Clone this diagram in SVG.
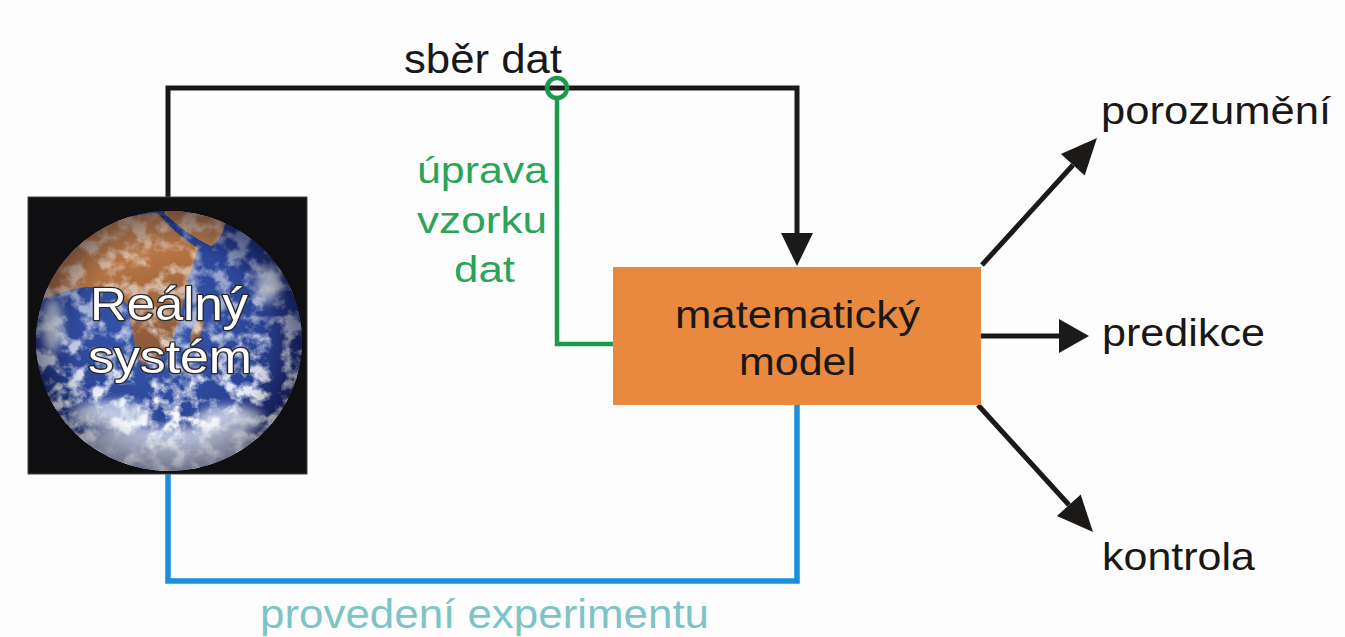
<svg xmlns="http://www.w3.org/2000/svg" width="1345" height="637" viewBox="0 0 1345 637">
  <style>
    text { font-family: "Liberation Sans", Arial, sans-serif; }
    .lbl { fill: #1a1817; }
    .green { fill: #2ba45a; }
    .earthtxt { fill: #ffffff; stroke: #2a2a2a; stroke-width: 2.6; paint-order: stroke; stroke-linejoin: round; }
    .blk { fill: none; stroke: #1c1a18; stroke-width: 5; }
    .head { fill: #1c1a18; }
  </style>
  <defs>
    <radialGradient id="ocean" cx="0.45" cy="0.45" r="0.6">
      <stop offset="0" stop-color="#3a5cb0"/>
      <stop offset="0.6" stop-color="#2a4496"/>
      <stop offset="1" stop-color="#1a2466"/>
    </radialGradient>
    <radialGradient id="limb" cx="0.5" cy="0.5" r="0.5">
      <stop offset="0.72" stop-color="#000018" stop-opacity="0"/>
      <stop offset="1" stop-color="#000018" stop-opacity="0.4"/>
    </radialGradient>
    <linearGradient id="sand" x1="0" y1="0" x2="0.3" y2="1">
      <stop offset="0" stop-color="#c88c58"/>
      <stop offset="0.5" stop-color="#b27242"/>
      <stop offset="1" stop-color="#8c5a3c"/>
    </linearGradient>
    <linearGradient id="cloudmask" x1="0" y1="0" x2="0" y2="1">
      <stop offset="0" stop-color="#fff" stop-opacity="0.35"/>
      <stop offset="0.45" stop-color="#fff" stop-opacity="0.6"/>
      <stop offset="0.75" stop-color="#fff" stop-opacity="0.95"/>
      <stop offset="1" stop-color="#fff" stop-opacity="1"/>
    </linearGradient>
    <mask id="cm">
      <rect x="28" y="197" width="280" height="277" fill="url(#cloudmask)"/>
    </mask>
    <clipPath id="globe">
      <ellipse cx="169" cy="341" rx="133" ry="130"/>
    </clipPath>
    <filter id="clouds" x="0" y="0" width="1" height="1">
      <feTurbulence type="fractalNoise" baseFrequency="0.06" numOctaves="5" seed="11" result="n"/>
      <feColorMatrix in="n" type="matrix" values="0 0 0 0 1  0 0 0 0 1  0 0 0 0 1  4 0 0 0 -1.75"/>
    </filter>
    <filter id="soft" x="-20%" y="-20%" width="140%" height="140%">
      <feGaussianBlur stdDeviation="5"/>
    </filter>
  </defs>

  <rect x="0" y="0" width="1345" height="637" fill="#fdfdfd"/>

  <g id="connectors">
    <!-- sběr dat -->
    <path class="blk" d="M168,198 V88 H797 V236"/>
    <polygon class="head" points="781,233 813,233 797,266"/>
    <!-- provedení experimentu -->
    <path d="M168,473 V581 H797 V405" fill="none" stroke="#1a90dc" stroke-width="5.5"/>
    <!-- úprava vzorku dat -->
    <path d="M557,98 V344 H614" fill="none" stroke="#1c9a4c" stroke-width="4.5"/>
    <circle cx="557" cy="88" r="10" fill="none" stroke="#1c9a4c" stroke-width="4.5"/>
    <!-- outputs -->
    <line class="blk" x1="982" y1="265" x2="1073" y2="165"/>
    <polygon class="head" points="1097,138 1084.7,175.4 1060.9,154"/>
    <line class="blk" x1="981" y1="336" x2="1062" y2="336"/>
    <polygon class="head" points="1089,336 1059,319 1059,353"/>
    <line class="blk" x1="978" y1="405" x2="1069" y2="505"/>
    <polygon class="head" points="1093,532 1080.7,494.6 1056.9,516"/>
  </g>

  <g id="real-system">
    <rect x="28" y="197" width="279" height="277" fill="#0f0f12" stroke="#444" stroke-width="1"/>
    <g clip-path="url(#globe)">
      <rect x="30" y="205" width="280" height="270" fill="url(#ocean)"/>
      <!-- Africa / Arabia -->
      <path fill="url(#sand)" d="M38,300 L48,262 C68,235 110,216 158,213 C168,226 182,238 198,248 C195,262 188,275 186,290 C182,310 178,330 168,348 C158,362 148,368 140,362 C133,345 132,322 127,305 C120,292 104,286 88,287 C70,288 52,296 38,300 Z"/>
      <path fill="#b77b4b" d="M165,210 L224,210 C228,225 222,238 212,246 C200,242 180,228 165,214 Z"/>
      <ellipse cx="197" cy="330" rx="5" ry="13" transform="rotate(22 197 330)" fill="#9c6a44"/>
      <!-- clouds -->
      <g mask="url(#cm)">
        <rect x="30" y="205" width="280" height="270" filter="url(#clouds)"/>
      </g>
      <g fill="#eef2f8" filter="url(#soft)" opacity="0.75">
        <ellipse cx="165" cy="455" rx="115" ry="28"/>
        <ellipse cx="110" cy="415" rx="40" ry="14"/>
        <ellipse cx="230" cy="420" rx="35" ry="14"/>
        <ellipse cx="52" cy="325" rx="10" ry="28"/>
        <ellipse cx="268" cy="285" rx="12" ry="18"/>
      </g>
      <ellipse cx="169" cy="341" rx="133" ry="130" fill="url(#limb)"/>
    </g>
    <text class="earthtxt" x="90" y="320" font-size="46" textLength="158" lengthAdjust="spacingAndGlyphs">Reálný</text>
    <text class="earthtxt" x="88" y="373" font-size="46" textLength="164" lengthAdjust="spacingAndGlyphs">systém</text>
  </g>

  <g id="model">
    <rect x="613" y="267" width="368" height="138" fill="#e8893f"/>
    <text class="lbl" x="675" y="328" font-size="39" textLength="245" lengthAdjust="spacingAndGlyphs">matematický</text>
    <text class="lbl" x="739" y="375" font-size="39" textLength="117" lengthAdjust="spacingAndGlyphs">model</text>
  </g>

  <g id="label-sber">
    <text class="lbl" x="404" y="73" font-size="41" textLength="158" lengthAdjust="spacingAndGlyphs">sběr dat</text>
  </g>

  <g id="label-uprava">
    <text class="green" x="417" y="183" font-size="37" textLength="131" lengthAdjust="spacingAndGlyphs">úprava</text>
    <text class="green" x="417" y="233" font-size="37" textLength="130" lengthAdjust="spacingAndGlyphs">vzorku</text>
    <text class="green" x="454" y="282" font-size="37" textLength="61" lengthAdjust="spacingAndGlyphs">dat</text>
  </g>

  <g id="label-experiment">
    <text x="260" y="628" font-size="40" fill="#7cc4c6" textLength="449" lengthAdjust="spacingAndGlyphs">provedení experimentu</text>
  </g>

  <g id="porozumeni">
    <text class="lbl" x="1101" y="124" font-size="39" textLength="230" lengthAdjust="spacingAndGlyphs">porozumění</text>
  </g>
  <g id="predikce">
    <text class="lbl" x="1102" y="346" font-size="39" textLength="163" lengthAdjust="spacingAndGlyphs">predikce</text>
  </g>
  <g id="kontrola">
    <text class="lbl" x="1102" y="570" font-size="39" textLength="153" lengthAdjust="spacingAndGlyphs">kontrola</text>
  </g>
</svg>
